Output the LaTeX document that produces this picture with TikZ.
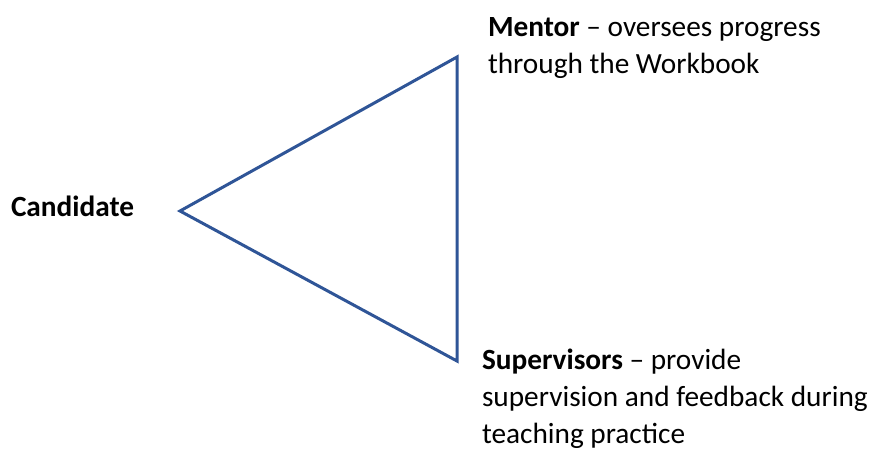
\documentclass[tikz,border=0pt]{standalone}
\usepackage{fontspec}
\setmainfont{Carlito}
\definecolor{triblue}{HTML}{2F5597}
\begin{document}
\begin{tikzpicture}[x=1pt,y=-1pt,
  label/.style={inner sep=0pt, outer sep=0pt, anchor=base west, align=left,
    font=\fontsize{29.3}{37}\selectfont},
  edge/.style={draw=triblue, line width=3pt, line join=miter}]
  \useasboundingbox (0,0) rectangle (871,450);
  % corners of the triangle
  \coordinate (c) at (180,211);
  \coordinate (m) at (457,57);
  \coordinate (s) at (457,361);
  \draw[edge] (c) -- (m) -- (s) -- cycle;
  % labels at the corners (base anchor sits on the last line)
  \node[label] (cand) at (11,216) {\textbf{Candidate}};
  \node[label] (ment) at (488,73) {\textbf{Mentor} – oversees progress\\through the Workbook};
  \node[label] (sup) at (482,443) {\textbf{Supervisors} – provide\\supervision and feedback during\\teaching practice};
\end{tikzpicture}
\end{document}
